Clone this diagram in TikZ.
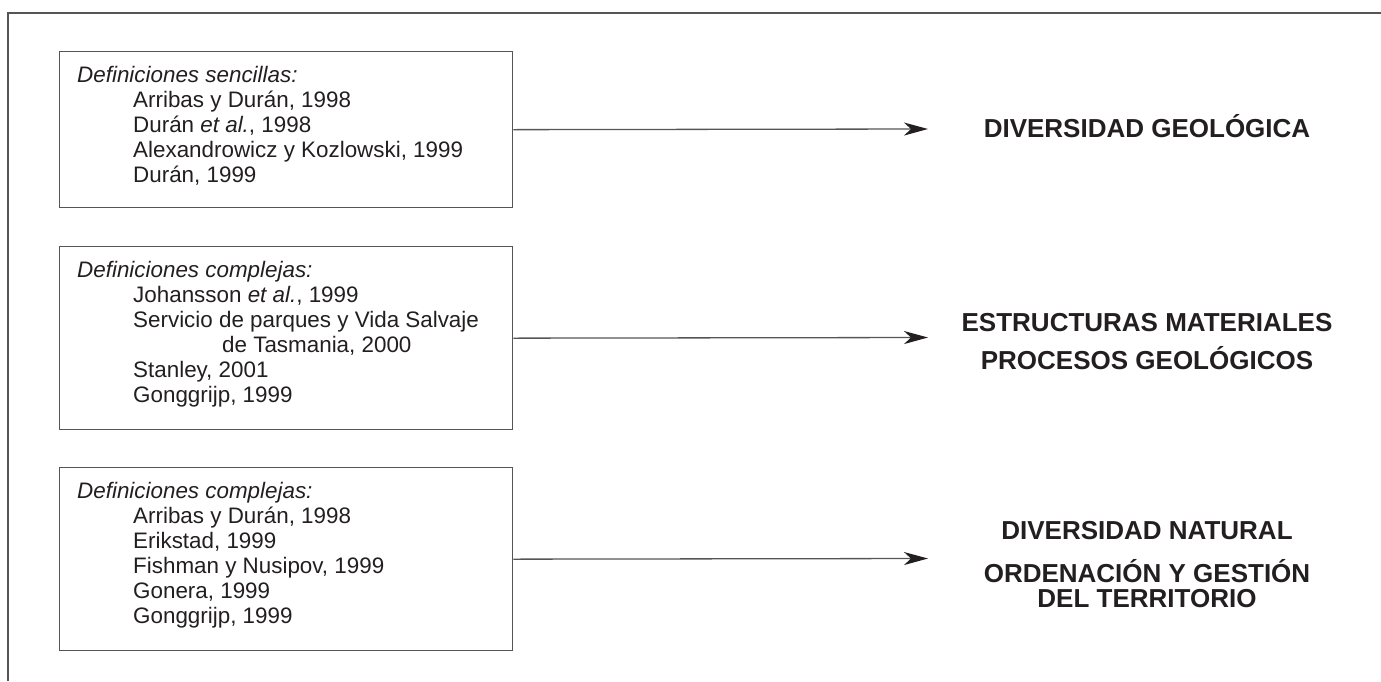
\documentclass[tikz,border=0pt]{standalone}
\usepackage{fontspec}
\setmainfont{Liberation Sans}
\usetikzlibrary{arrows.meta}
\definecolor{ink}{HTML}{231F20}
\definecolor{rule}{HTML}{555555}
\begin{document}
\begin{tikzpicture}[x=1pt,y=-1pt,
  frame/.style={draw=rule,line width=1.3pt},
  refbox/.style={draw=rule,line width=1.3pt,rectangle,inner sep=0pt,anchor=north west},
  ref/.style={anchor=base west,inner sep=0pt,text=ink,font=\fontsize{22.4}{25}\selectfont},
  lab/.style={anchor=base,inner sep=0pt,text=ink,font=\fontsize{26}{25}\selectfont\bfseries},
  conn/.style={draw=rule,line width=1.3pt,-{Stealth[length=24pt,width=13pt,inset=7pt,color=ink]}}
]
\useasboundingbox (0,0) rectangle (1381,681);
\draw[frame] (1381,13) -| (8,681);

% box 1
\node[refbox,minimum width=453pt,minimum height=156pt] (b1) at (59,51) {};
\node[ref] (b1t) at (77,82) {\itshape Definiciones sencillas:};
\node[ref] (b1a) at (133,107) {Arribas y Durán, 1998};
\node[ref] (b1b) at (133,132) {Durán \textit{et al.}, 1998};
\node[ref] (b1c) at (133,157) {Alexandrowicz y Kozlowski, 1999};
\node[ref] (b1d) at (133,182) {Durán, 1999};

% box 2
\node[refbox,minimum width=453pt,minimum height=183pt] (b2) at (59,246) {};
\node[ref] (b2t) at (77,277) {\itshape Definiciones complejas:};
\node[ref] (b2a) at (133,302) {Johansson \textit{et al.}, 1999};
\node[ref] (b2b) at (133,327) {Servicio de parques y Vida Salvaje};
\node[ref] (b2c) at (222,352) {de Tasmania, 2000};
\node[ref] (b2d) at (133,377) {Stanley, 2001};
\node[ref] (b2e) at (133,402) {Gonggrijp, 1999};

% box 3
\node[refbox,minimum width=453pt,minimum height=183pt] (b3) at (59,467) {};
\node[ref] (b3t) at (77,498) {\itshape Definiciones complejas:};
\node[ref] (b3a) at (133,523) {Arribas y Durán, 1998};
\node[ref] (b3b) at (133,548) {Erikstad, 1999};
\node[ref] (b3c) at (133,573) {Fishman y Nusipov, 1999};
\node[ref] (b3d) at (133,598) {Gonera, 1999};
\node[ref] (b3e) at (133,623) {Gonggrijp, 1999};

% labels
\node[lab] (l1) at (1147,137) {DIVERSIDAD GEOLÓGICA};
\node[lab] (l2a) at (1147,331) {ESTRUCTURAS MATERIALES};
\node[lab] (l2b) at (1147,369) {PROCESOS GEOLÓGICOS};
\node[lab] (l3a) at (1147,539) {DIVERSIDAD NATURAL};
\node[lab] (l3b) at (1147,582) {ORDENACIÓN Y GESTIÓN};
\node[lab] (l3c) at (1147,607) {DEL TERRITORIO};

% arrow tips
\coordinate (t1) at (928,129);
\coordinate (t2) at (928,337.5);
\coordinate (t3) at (928,558.5);
\draw[conn] (b1.east) -- (t1);
\draw[conn] (b2.east) -- (t2);
\draw[conn] (b3.east) -- (t3);
\end{tikzpicture}
\end{document}
